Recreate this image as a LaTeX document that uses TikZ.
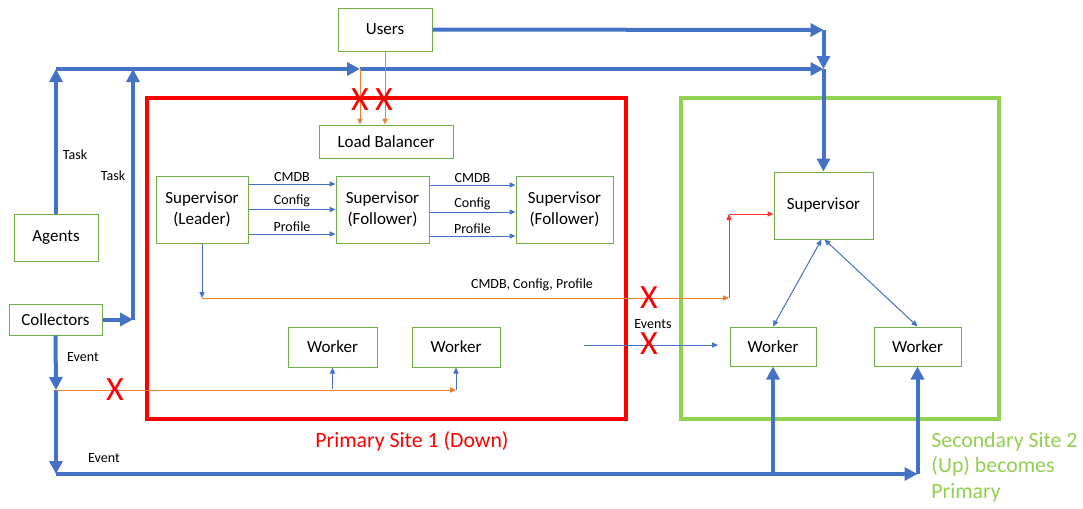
\documentclass[tikz,border=0pt]{standalone}
\usepackage{fontspec}
\setmainfont{Carlito}
\usetikzlibrary{arrows.meta}
\definecolor{mblue}{HTML}{4472C4}
\definecolor{morange}{HTML}{ED7D31}
\definecolor{mgreen}{HTML}{70AD47}
\definecolor{sgreen}{HTML}{92D050}
\definecolor{mred}{HTML}{FF0000}
\begin{document}
\begin{tikzpicture}[x=0.5pt,y=-0.5pt,
  box/.style={draw=mgreen, line width=0.5pt, fill=white, inner sep=0pt, align=center,
    font=\fontsize{8.5}{10.4}\selectfont},
  bigarr/.style={draw=mblue, line width=2pt, -{Triangle[length=6.5pt,width=6.5pt]}},
  thinarr/.style={draw=mblue, line width=0.5pt, -{Triangle[length=3pt,width=2.6pt]}},
  thinboth/.style={draw=mblue, line width=0.5pt, {Triangle[length=3pt,width=2.6pt]}-{Triangle[length=3pt,width=2.6pt]}},
  orarr/.style={draw=morange, line width=0.5pt, -{Triangle[length=3pt,width=2.6pt]}},
  redarr/.style={draw=mred!80, line width=0.5pt, -{Triangle[length=3pt,width=2.6pt]}},
  lbl/.style={font=\fontsize{7}{8}\selectfont, inner sep=1pt},
  xmark/.style={text=mred, font=\fontsize{17}{17}\selectfont, inner sep=0pt},
]
\useasboundingbox (0,0) rectangle (1083,509);
\fill[white] (0,0) rectangle (1083,509);

% sites
\draw[mred, line width=2pt] (147,98) rectangle (626,419);
\draw[sgreen, line width=1.8pt] (681,98) rectangle (999,419);
\node[text=mred, font=\fontsize{10.9}{13}\selectfont] (plabel) at (412,441) {Primary Site 1 (Down)};
\node[text=sgreen, font=\fontsize{10.9}{12.75}\selectfont, align=left, anchor=west, inner sep=0pt] (slabel) at (931,467) {Secondary Site 2\\(Up) becomes\\Primary};

% nodes
\node[box, minimum width=47pt, minimum height=21.5pt] (users) at (385,29.5) {Users};
\node[box, minimum width=67pt, minimum height=16.5pt] (lb) at (386,141.5) {Load Balancer};
\node[box, minimum width=46pt, minimum height=33.5pt] (lead) at (202,209.5) {Supervisor\\(Leader)};
\node[box, minimum width=46.5pt, minimum height=33.5pt] (fol1) at (382.5,209.5) {Supervisor\\(Follower)};
\node[box, minimum width=48.5pt, minimum height=33.5pt] (fol2) at (564.5,209.5) {Supervisor\\(Follower)};
\node[box, minimum width=49.5pt, minimum height=33.5pt] (sup2) at (823.5,205.5) {Supervisor};
\node[box, minimum width=44.5pt, minimum height=20pt] (w1) at (332.5,347) {Worker};
\node[box, minimum width=44pt, minimum height=20pt] (w2) at (456,347) {Worker};
\node[box, minimum width=43pt, minimum height=19.5pt] (w3) at (773,346.5) {Worker};
\node[box, minimum width=43.5pt, minimum height=19.5pt] (w4) at (917.5,346.5) {Worker};
\node[box, minimum width=42pt, minimum height=23.5pt] (agents) at (56,237.5) {Agents};
\node[box, minimum width=46.5pt, minimum height=15.5pt] (coll) at (55.5,319.5) {Collectors};

% junction coordinates
\coordinate (tl) at (56,69);
\coordinate (tm) at (360,69);
\coordinate (tr) at (823.5,69);
\coordinate (ur) at (823.5,30);
\coordinate (cj) at (133,319.5);
\coordinate (tj) at (133,69);
\coordinate (ej) at (56,390);
\coordinate (e2) at (456,390);
\coordinate (e1) at (332.5,389);
\coordinate (bl) at (56,474);
\coordinate (br) at (917.5,474);
\coordinate (bm) at (773,474);
\coordinate (ls) at (202,298);
\coordinate (rj) at (729,298);
\coordinate (rt) at (729,214);
\coordinate (ev) at (584,345);
\coordinate (evend) at (718,345);

% thick blue arrows
\draw[bigarr] (agents.north) -- (tl);
\draw[bigarr] (tl) -- (tm);
\draw[bigarr] (tm) -- (tr);
\draw[bigarr] (users.east) -- (ur);
\draw[bigarr] (ur) -- (tr);
\draw[bigarr] (tr) -- (sup2.north);
\draw[bigarr] (coll.east) -- (cj);
\draw[bigarr] (cj) -- (tj);
\draw[bigarr] (coll.south) -- (ej);
\draw[bigarr] (ej) -- (bl);
\draw[bigarr] (bl) -- (br);
\draw[bigarr] (br) -- (w4.south);
\draw[bigarr] (bm) -- (w3.south);

\node[lbl] (task1) at (75,155) {Task};
\node[lbl] (task2) at (113,176) {Task};
\node[lbl] (event1) at (83,357) {Event};
\node[lbl] (event2) at (104,458) {Event};

% users / load balancer
\draw[orarr] (tm) -- (tm |- lb.north);
\draw[orarr] (users.south) -- (users.south |- lb.north);

% supervisor replication
\draw[thinarr] ([yshift=12.75pt]lead.east) -- node[lbl, above] (c1) {CMDB} ([yshift=12.75pt]fol1.west);
\draw[thinarr] (lead.east) -- node[lbl, above] (g1) {Config} (fol1.west);
\draw[thinarr] ([yshift=-12.25pt]lead.east) -- node[lbl, above] (p1) {Profile} ([yshift=-12.25pt]fol1.west);
\draw[thinarr] ([yshift=12.25pt]fol1.east) -- node[lbl, above] (c2) {CMDB} ([yshift=12.25pt]fol2.west);
\draw[thinarr] ([yshift=-1.25pt]fol1.east) -- node[lbl, above] (g2) {Config} ([yshift=-1.25pt]fol2.west);
\draw[thinarr] ([yshift=-13.25pt]fol1.east) -- node[lbl, above] (p2) {Profile} ([yshift=-13.25pt]fol2.west);

% leader to site 2
\draw[thinarr] (lead.south) -- (ls);
\draw[orarr] (ls) -- (rj);
\draw[redarr] (rj) -- (rt);
\draw[redarr] (rt) -- (rt -| sup2.west);
\node[lbl] (cmdbl) at (532,285) {CMDB, Config, Profile};

% events
\draw[thinarr] (ev) -- (evend);
\node[lbl] (evl) at (653,324) {Events};

% bottom events into site 1
\draw[orarr] (ej) -- (e2);
\draw[thinarr] (e1) -- (w1.south);
\draw[thinarr] (e2) -- (w2.south);

% site 2 supervisor-workers
\draw[thinboth] ([xshift=-1pt]sup2.south) -- (w3.north);
\draw[thinboth] ([xshift=0.5pt]sup2.south) -- (w4.north);

% X marks
\node[xmark] (x1) at (360,100) {X};
\node[xmark] (x2) at (384,100) {X};
\node[xmark] (x3) at (649,297.5) {X};
\node[xmark] (x4) at (649,344) {X};
\node[xmark] (x5) at (115,390) {X};
\end{tikzpicture}
\end{document}
